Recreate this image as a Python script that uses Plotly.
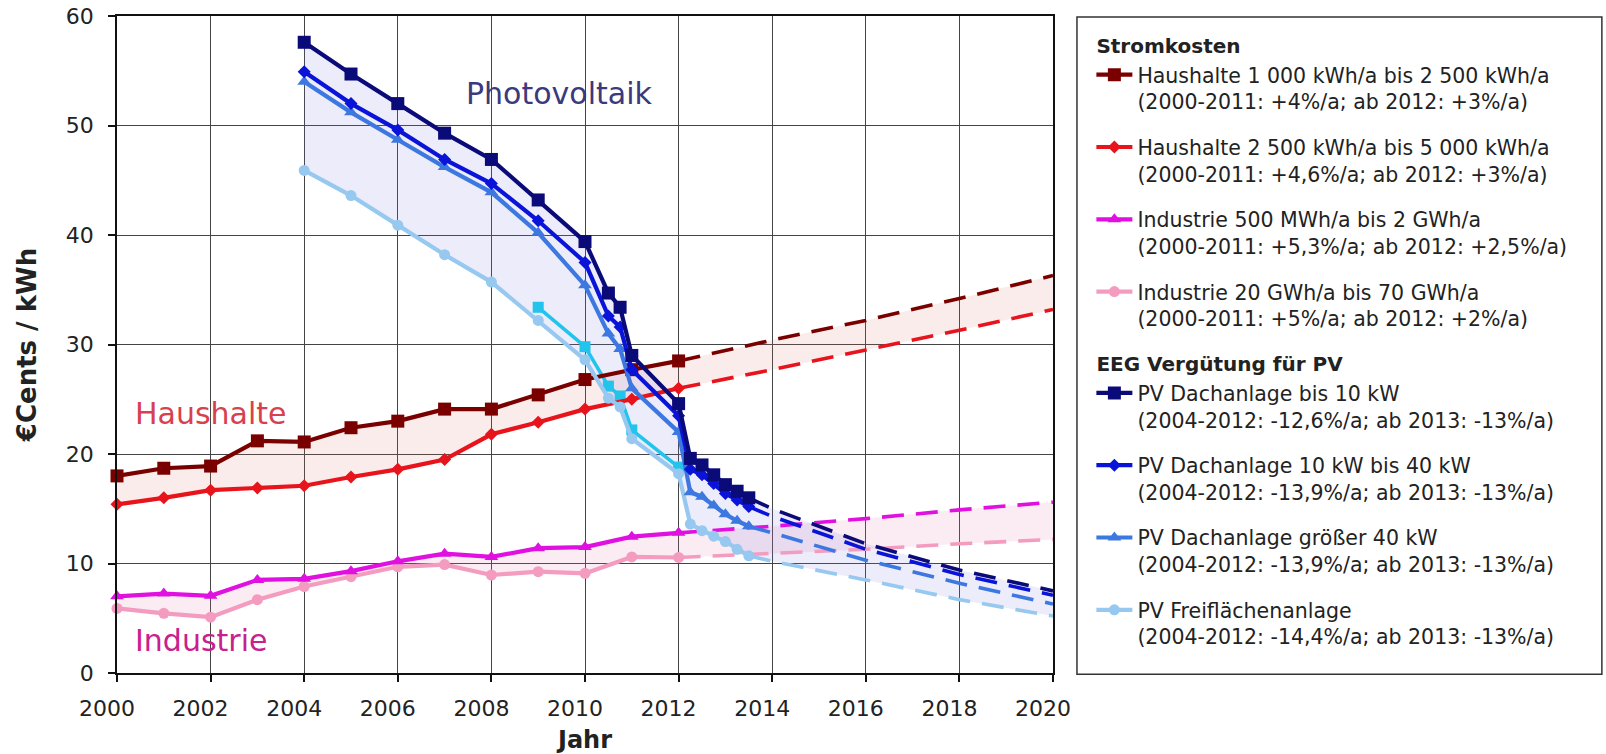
import plotly.graph_objects as go

FONT = "DejaVu Sans"
TXT = "#222222"

# ---------------- Stromkosten (2000-2012) ----------------
years_hist = [2000, 2001, 2002, 2003, 2004, 2005, 2006, 2007, 2008, 2009, 2010, 2011, 2012]
haushalte_1 = [18.0, 18.7, 18.9, 21.2, 21.1, 22.4, 23.0, 24.1, 24.1, 25.4, 26.8, 27.7, 28.5]
haushalte_2 = [15.4, 16.0, 16.7, 16.9, 17.1, 17.9, 18.6, 19.5, 21.8, 22.9, 24.1, 25.0, 26.0]
industrie_1 = [7.0, 7.25, 7.05, 8.5, 8.6, 9.3, 10.2, 10.9, 10.6, 11.4, 11.5, 12.45, 12.8]
industrie_2 = [5.9, 5.45, 5.1, 6.7, 7.9, 8.8, 9.7, 9.9, 8.95, 9.25, 9.1, 10.6, 10.55]

# projections (dashed)
years_proj = [2012, 2014, 2016, 2018, 2020]
haushalte_1_proj = [28.5, 30.4, 32.2, 34.2, 36.3]
haushalte_2_proj = [26.0, 27.7, 29.5, 31.3, 33.2]
industrie_1_proj = [12.8, 13.4, 14.1, 14.9, 15.6]
industrie_2_proj = [10.55, 10.9, 11.3, 11.8, 12.2]

# ---------------- EEG Vergütung PV ----------------
pv_dates = [2004, 2005, 2006, 2007, 2008, 2009, 2010, 2010.5, 2010.75, 2011,
            2012, 2012.25, 2012.5, 2012.75, 2013, 2013.25, 2013.5]
pv_bis_10 = [57.6, 54.7, 52.0, 49.3, 46.9, 43.2, 39.4, 34.7, 33.4, 29.0,
             24.6, 19.6, 19.0, 18.1, 17.2, 16.6, 16.0]
pv_10_40 = [54.9, 52.0, 49.6, 46.9, 44.7, 41.3, 37.5, 32.6, 31.6, 27.7,
            23.5, 18.6, 18.1, 17.3, 16.4, 15.8, 15.2]
pv_gr_40 = [54.0, 51.2, 48.7, 46.2, 43.9, 40.2, 35.4, 31.0, 29.6, 26.0,
            22.0, 16.5, 16.1, 15.3, 14.5, 13.9, 13.4]
pv_frei = [45.9, 43.6, 40.9, 38.2, 35.7, 32.2, 28.6, 25.1, 24.3, 21.4,
           18.2, 13.6, 13.0, 12.5, 12.0, 11.3, 10.7]

pv_proj_years = [2013.5, 2014, 2016, 2018, 2020]
pv_bis_10_proj = [16.0, 15.0, 11.8, 9.4, 7.5]
pv_10_40_proj = [15.2, 14.3, 11.3, 9.0, 7.1]
pv_gr_40_proj = [13.4, 12.8, 10.3, 8.2, 6.3]
pv_frei_proj = [10.7, 10.2, 8.5, 6.7, 5.2]

# extra (unlabelled) cyan series
extra_dates = [2009, 2010, 2010.5, 2010.75, 2011, 2012]
extra_values = [33.4, 29.8, 26.2, 25.3, 22.2, 18.8]

# ---------------- styling ----------------
names = [
    "Haushalte 1 000 kWh/a bis 2 500 kWh/a<br>(2000-2011: +4%/a; ab 2012: +3%/a)",
    "Haushalte 2 500 kWh/a bis 5 000 kWh/a<br>(2000-2011: +4,6%/a; ab 2012: +3%/a)",
    "Industrie 500 MWh/a bis 2 GWh/a<br>(2000-2011: +5,3%/a; ab 2012: +2,5%/a)",
    "Industrie 20 GWh/a bis 70 GWh/a<br>(2000-2011: +5%/a; ab 2012: +2%/a)",
    "PV Dachanlage bis 10 kW<br>(2004-2012: -12,6%/a; ab 2013: -13%/a)",
    "PV Dachanlage 10 kW bis 40 kW<br>(2004-2012: -13,9%/a; ab 2013: -13%/a)",
    "PV Dachanlage größer 40 kW<br>(2004-2012: -13,9%/a; ab 2013: -13%/a)",
    "PV Freiflächenanlage<br>(2004-2012: -14,4%/a; ab 2013: -13%/a)",
]
colors = ["#7a0000", "#e8141c", "#e010e0", "#f39cc0",
          "#0a0a78", "#0a14d8", "#3c78e0", "#96c8f0"]
symbols = ["square", "diamond", "triangle-up", "circle",
           "square", "diamond", "triangle-up", "circle"]
msizes = [13, 10, 12, 11, 13, 10, 12, 11]

series = [
    (years_hist, haushalte_1, years_proj, haushalte_1_proj),
    (years_hist, haushalte_2, years_proj, haushalte_2_proj),
    (years_hist, industrie_1, years_proj, industrie_1_proj),
    (years_hist, industrie_2, years_proj, industrie_2_proj),
    (pv_dates, pv_bis_10, pv_proj_years, pv_bis_10_proj),
    (pv_dates, pv_10_40, pv_proj_years, pv_10_40_proj),
    (pv_dates, pv_gr_40, pv_proj_years, pv_gr_40_proj),
    (pv_dates, pv_frei, pv_proj_years, pv_frei_proj),
]

fig = go.Figure()


def band(upper, lower, color):
    ux = upper[0] + upper[2][1:]
    uy = upper[1] + upper[3][1:]
    lx = lower[0] + lower[2][1:]
    ly = lower[1] + lower[3][1:]
    fig.add_trace(go.Scatter(
        x=ux + lx[::-1], y=uy + ly[::-1], mode="lines", fill="toself",
        fillcolor=color, line=dict(width=0), showlegend=False, hoverinfo="skip"))


band(series[0], series[1], "rgba(225,110,110,0.13)")
band(series[2], series[3], "rgba(230,110,160,0.14)")
band(series[4], series[7], "rgba(120,120,225,0.14)")

# dashed projections
for i, (hx, hy, px, py) in enumerate(series):
    fig.add_trace(go.Scatter(
        x=px, y=py, mode="lines", legendgroup=f"g{i}", showlegend=False,
        line=dict(color=colors[i], width=3.6, dash="22px,12px"), hoverinfo="skip"))

# extra cyan series
fig.add_trace(go.Scatter(
    x=extra_dates, y=extra_values, mode="lines+markers", showlegend=False,
    line=dict(color="#22c4ec", width=3.6),
    marker=dict(symbol="square", size=11, color="#22c4ec")))

# main series (light ones first so dark ones lie on top)
order = [3, 2, 1, 0, 7, 6, 5, 4]
traces = {}
for i in range(8):
    hx, hy, px, py = series[i]
    kw = {}
    if i == 0:
        kw["legendgrouptitle"] = dict(text="<b>Stromkosten</b>",
                                      font=dict(family=FONT, size=20, color=TXT))
    if i == 4:
        kw["legendgrouptitle"] = dict(text="<b>EEG Vergütung für PV</b>",
                                      font=dict(family=FONT, size=20, color=TXT))
    traces[i] = go.Scatter(
        x=hx, y=hy, name=names[i], mode="lines+markers", legendgroup=f"g{i}",
        legendrank=i + 1, cliponaxis=False,
        line=dict(color=colors[i], width=4.2),
        marker=dict(symbol=symbols[i], size=msizes[i], color=colors[i]), **kw)
for i in order:
    fig.add_trace(traces[i])

# labels inside plot
fig.add_annotation(x=2009.45, y=52.9, text="Photovoltaik", showarrow=False,
                   font=dict(family=FONT, size=30, color="#3a3a7c"))
fig.add_annotation(x=2002.0, y=23.7, text="Haushalte", showarrow=False,
                   font=dict(family=FONT, size=30, color="#d8404e"))
fig.add_annotation(x=2001.8, y=3.0, text="Industrie", showarrow=False,
                   font=dict(family=FONT, size=30, color="#c8208c"))

# legend frame
fig.add_shape(type="rect", xref="paper", yref="paper",
              x0=1.0256, x1=1.5864, y0=-0.0018, y1=0.9985,
              line=dict(color="#333333", width=1.5), fillcolor="rgba(0,0,0,0)")

axis_common = dict(
    showgrid=True, gridcolor="#444444", gridwidth=1.3,
    showline=True, mirror=True, linecolor="#111111", linewidth=1.6,
    ticks="outside", ticklen=7, tickcolor="#111111", tickwidth=1.5,
    tickfont=dict(family=FONT, size=22, color=TXT), zeroline=False,
)

fig.update_layout(
    width=1606, height=754,
    margin=dict(l=117, r=553, t=16, b=81, autoexpand=False),
    paper_bgcolor="white", plot_bgcolor="white",
    font=dict(family=FONT, color=TXT),
    xaxis=dict(range=[2000, 2020], tick0=2000, dtick=2, ticklabelstandoff=8,
               ticklabelshift=-10,
               title=dict(text="<b>Jahr</b>", font=dict(family=FONT, size=24, color=TXT), standoff=22),
               **axis_common),
    yaxis=dict(range=[0, 60], tick0=0, dtick=10, ticklabelstandoff=10,
               title=dict(text="\u00a0\u00a0\u00a0\u00a0\u00a0\u00a0<b>€Cents / kWh</b>",
                          font=dict(family=FONT, size=26, color=TXT), standoff=22),
               **axis_common),
    legend=dict(x=1.041, xanchor="left", y=0.985, yanchor="top",
                bgcolor="rgba(0,0,0,0)", borderwidth=0,
                font=dict(family=FONT, size=20.5, color=TXT),
                tracegroupgap=16, valign="top", itemwidth=36,
                traceorder="grouped"),
    showlegend=True,
)

fig.write_html("out.html", config={"displayModeBar": False},
               post_script="document.body.style.margin='0px';document.body.style.overflow='hidden';")
